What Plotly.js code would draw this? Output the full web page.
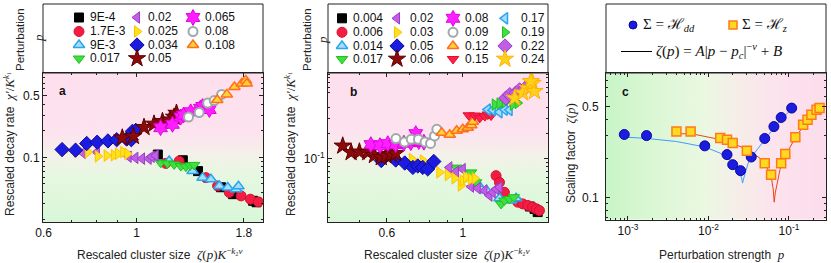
<!DOCTYPE html>
<html><head><meta charset="utf-8">
<script src="https://cdn.plot.ly/plotly-3.0.1.min.js"></script>
<style>html,body{margin:0;padding:0;background:#fff}#chart{width:831px;height:263px}</style>
</head><body><div id="chart"></div>
<script>
// ---------------- Panel a data (cluster size vs decay rate), Σ = H_dd ----------------
const labelsA = ['9E-4','1.7E-3','9E-3','0.017','0.02','0.025','0.034','0.05','0.065','0.08','0.108'];
const xA_9E4  = [1.123,1.288,1.40,1.588,1.697,1.894,1.93];
const yA_9E4  = [0.108,0.093,0.070,0.0459,0.0383,0.0322,0.031];
const xA_17E3 = [1.173,1.262,1.462,1.559,1.662,1.773,1.866,1.95];
const yA_17E3 = [0.0856,0.0908,0.059,0.0475,0.040,0.0366,0.0336,0.0313];
const xA_9E3  = [1.195,1.359,1.436,1.503,1.574,1.648,1.726,1.748];
const yA_9E3  = [0.091,0.070,0.059,0.0565,0.0475,0.0456,0.0436,0.047];
const xA_017  = [1.141,1.184,1.228,1.274,1.31,1.341,1.37];
const yA_017  = [0.087,0.0856,0.0834,0.0798,0.0786,0.0812,0.0823];
const xA_02   = [0.744,0.804,0.957,0.993,1.03,1.068,1.086,1.11];
const yA_02   = [0.113,0.115,0.102,0.099,0.097,0.097,0.102,0.105];
const xA_025  = [0.67,0.72,0.765,0.808,0.848,0.882,0.902,0.929,0.95];
const yA_025  = [0.118,0.116,0.115,0.103,0.105,0.106,0.110,0.115,0.11];
const xA_034  = [0.664,0.715,0.76,0.805,0.854,0.896,0.946,0.971,0.977,0.995];
const yA_034  = [0.123,0.121,0.144,0.149,0.154,0.159,0.162,0.159,0.198,0.203];
const xA_05   = [0.924,0.982,1.041,1.10,1.152,1.20,1.228,1.244];
const yA_05   = [0.167,0.174,0.220,0.240,0.257,0.268,0.288,0.319];
const xA_065  = [1.14,1.217,1.274,1.293,1.345,1.418,1.436,1.49];
const yA_065  = [0.218,0.238,0.288,0.303,0.33,0.362,0.379,0.35];
const xA_08   = [1.329,1.409,1.476,1.53,1.594];
const yA_08   = [0.288,0.324,0.414,0.443,0.52];
const xA_108  = [1.556,1.64,1.71,1.78,1.82,1.83];
const yA_108  = [0.449,0.52,0.63,0.69,0.75,0.69];

// ---------------- Panel b data, Σ = H_z ----------------
const labelsB = ['0.004','0.006','0.014','0.017','0.02','0.03','0.05','0.06','0.08','0.09','0.12','0.15','0.17','0.19','0.22','0.24'];
const xB_004 = [1.57,1.62,1.655];
const yB_004 = [0.027,0.0253,0.0232];
const xB_006 = [1.251,1.28,1.323,1.447,1.497,1.548,1.6,1.637,1.675];
const yB_006 = [0.0626,0.0522,0.0398,0.0304,0.029,0.0278,0.0266,0.0253,0.0242];
const xB_014 = [1.106,1.173,1.28,1.384,1.431];
const yB_014 = [0.0499,0.042,0.0338,0.0318,0.0338];
const xB_017 = [0.958,1.057,1.094,1.294,1.323,1.369,1.41];
const yB_017 = [0.078,0.0685,0.0522,0.029,0.0318,0.0332,0.0348];
const xB_02  = [0.914,0.956,1.0,1.057,1.106,1.157,1.197,1.223,1.251,1.28];
const yB_02  = [0.0784,0.0698,0.0748,0.0465,0.0444,0.0417,0.0364,0.0398,0.0435,0.0456];
const xB_03  = [0.71,0.764,0.854,0.904,0.946,0.987,1.0,1.022,1.057,1.084];
const yB_03  = [0.0986,0.0947,0.0685,0.0636,0.0582,0.048,0.0547,0.0598,0.0571,0.0582];
const xB_05  = [0.578,0.637,0.677,0.715,0.739,0.764,0.79,0.823];
const yB_05  = [0.0947,0.096,0.0885,0.0784,0.0816,0.0784,0.0753,0.0922];
const xB_06  = [0.446,0.472,0.499,0.528,0.552,0.578,0.597,0.618,0.637];
const yB_06  = [0.141,0.118,0.120,0.118,0.109,0.103,0.108,0.112,0.115];
const xB_08  = [0.539,0.573,0.604,0.637,0.673,0.705,0.729,0.744,0.77];
const yB_08  = [0.146,0.142,0.150,0.146,0.152,0.154,0.197,0.159,0.156];
const xB_09  = [0.638,0.676,0.707,0.742,0.776,0.805,0.827,0.84];
const yB_09  = [0.172,0.157,0.169,0.169,0.157,0.151,0.185,0.222];
const xB_12  = [0.868,0.916,0.96,1.0,1.034,1.059,1.07];
const yB_12  = [0.202,0.191,0.213,0.222,0.231,0.248,0.272];
const xB_15  = [1.041,1.084,1.121,1.16,1.183,1.21];
const yB_15  = [0.325,0.323,0.303,0.318,0.332,0.323];
const xB_17  = [1.183,1.223,1.28,1.326,1.37];
const yB_17  = [0.38,0.374,0.354,0.38,0.377];
const xB_19  = [1.24,1.28,1.326,1.4,1.447];
const yB_19  = [0.435,0.447,0.464,0.435,0.455];
const xB_22  = [1.336,1.372,1.43,1.465,1.52];
const yB_22  = [0.52,0.57,0.6,0.65,0.68];
const xB_24  = [1.418,1.497,1.55,1.6,1.62,1.58];
const yB_24  = [0.52,0.6,0.68,0.78,0.625,0.82];

// ---------------- Panel c data: scaling factor vs perturbation ----------------
const pHdd = [9e-4,1.7e-3,9e-3,0.017,0.02,0.025,0.034,0.05,0.065,0.08,0.108];
const zHdd = [0.306,0.30,0.25,0.214,0.179,0.161,0.205,0.285,0.352,0.414,0.489];
const pHz  = [0.004,0.006,0.014,0.017,0.02,0.03,0.05,0.06,0.08,0.09,0.12,0.15,0.17,0.19,0.22,0.24];
const zHz  = [0.323,0.323,0.287,0.279,0.263,0.229,0.184,0.150,0.184,0.216,0.292,0.364,0.397,0.434,0.474,0.489];
// fitted curves
const fitHdd_p = [9.36e-4,1.74e-3,4.03e-3,9.06e-3,0.0139,0.0185,0.0224,0.0245,0.0258,0.0265,0.0279,0.0312,0.036,0.0504,0.067,0.085,0.108];
const fitHdd_z = [0.292,0.285,0.270,0.245,0.220,0.195,0.169,0.155,0.141,0.129,0.146,0.185,0.214,0.282,0.352,0.417,0.480];
const fitHz_p  = [4.09e-3,6.18e-3,0.0143,0.0203,0.0298,0.0436,0.0528,0.061,0.0635,0.0656,0.0675,0.0703,0.0773,0.0891,0.121,0.166,0.238];
const fitHz_z  = [0.31,0.31,0.279,0.26,0.236,0.201,0.174,0.137,0.118,0.092,0.108,0.122,0.164,0.207,0.292,0.385,0.489];

// ---------------- styles ----------------
const sans = 'Liberation Sans, Arial, Helvetica, sans-serif';
const serif = 'Liberation Serif, Times New Roman, serif';
const S = {
  blk:  {symbol:'square', size:9, color:'#000000', line:{color:'#000000', width:1}},
  red:  {symbol:'circle', size:10, color:'#f31d44', line:{color:'#d8102f', width:1}},
  lbU:  {symbol:'triangle-up', size:10, color:'#a6ddff', line:{color:'#2aa6ee', width:1.5}},
  grD:  {symbol:'triangle-down', size:10, color:'#3fe03f', line:{color:'#1fbf1f', width:1}},
  puL:  {symbol:'triangle-left', size:10, color:'#c25ee6', line:{color:'#9a3cc8', width:1}},
  yeR:  {symbol:'triangle-right', size:10, color:'#ffe31a', line:{color:'#ffc000', width:1}},
  blD:  {symbol:'diamond', size:11, color:'#1c1ce0', line:{color:'#0a0a9a', width:1}},
  drS:  {symbol:'star', size:13, color:'#8c0a0a', line:{color:'#5c0000', width:1}},
  mgH:  {symbol:'hexagram', size:12, color:'#ff1eff', line:{color:'#e000e0', width:1}},
  gyO:  {symbol:'circle', size:9, color:'#ffffff', line:{color:'#9eaaaa', width:2}},
  orU:  {symbol:'triangle-up', size:10, color:'#ffd23a', line:{color:'#ff6f1f', width:1.5}},
  rdD:  {symbol:'triangle-down', size:10, color:'#ff1f48', line:{color:'#e0102f', width:1}},
  lbL:  {symbol:'triangle-left', size:10, color:'#a6ddff', line:{color:'#2aa6ee', width:1.5}},
  grR:  {symbol:'triangle-right', size:10, color:'#3fe03f', line:{color:'#1fbf1f', width:1}},
  puD:  {symbol:'diamond', size:11, color:'#c25ee6', line:{color:'#9a3cc8', width:1}},
  yeS:  {symbol:'star', size:13, color:'#ffd21a', line:{color:'#ffb000', width:1}}
};
const seriesA = [
  [xA_9E4,yA_9E4,S.blk],[xA_17E3,yA_17E3,S.red],[xA_9E3,yA_9E3,S.lbU],[xA_017,yA_017,S.grD],
  [xA_02,yA_02,S.puL],[xA_025,yA_025,S.yeR],[xA_034,yA_034,S.blD],[xA_05,yA_05,S.drS],
  [xA_065,yA_065,S.mgH],[xA_08,yA_08,S.gyO],[xA_108,yA_108,S.orU]
];
const seriesB = [
  [xB_004,yB_004,S.blk],[xB_006,yB_006,S.red],[xB_014,yB_014,S.lbU],[xB_017,yB_017,S.grD],
  [xB_02,yB_02,S.puL],[xB_03,yB_03,S.yeR],[xB_05,yB_05,S.blD],[xB_06,yB_06,S.drS],
  [xB_08,yB_08,S.mgH],[xB_09,yB_09,S.gyO],[xB_12,yB_12,S.orU],[xB_15,yB_15,S.rdD],
  [xB_17,yB_17,S.lbL],[xB_19,yB_19,S.grR],[xB_22,yB_22,S.puD],[xB_24,yB_24,S.yeS]
];

const W = 831, H = 263;
const PX = v => v / W, PY = v => 1 - v / H;
const traces = [];
const annotations = [];

seriesA.forEach((s, i) => traces.push({type:'scatter', mode:'markers', x:s[0], y:s[1], xaxis:'x', yaxis:'y',
  name:labelsA[i], marker:s[2], cliponaxis:true, hoverinfo:'skip'}));
seriesB.forEach((s, i) => traces.push({type:'scatter', mode:'markers', x:s[0], y:s[1], xaxis:'x2', yaxis:'y2',
  name:labelsB[i], marker:s[2], cliponaxis:true, hoverinfo:'skip'}));

traces.push({type:'scatter', mode:'lines', x:fitHdd_p, y:fitHdd_z, xaxis:'x3', yaxis:'y3', line:{color:'#3d9bff', width:1}, hoverinfo:'skip'});
traces.push({type:'scatter', mode:'lines', x:fitHz_p, y:fitHz_z, xaxis:'x3', yaxis:'y3', line:{color:'#e8431e', width:1}, hoverinfo:'skip'});
const mHdd = {symbol:'circle', size:10, color:'#1c1ce0', line:{color:'#0a0a9a', width:1}};
const mHz  = {symbol:'square', size:9, color:'#ffd820', line:{color:'#ff7a1a', width:1.5}};
traces.push({type:'scatter', mode:'markers', x:pHdd, y:zHdd, xaxis:'x3', yaxis:'y3', marker:mHdd, hoverinfo:'skip'});
traces.push({type:'scatter', mode:'markers', x:pHz, y:zHz, xaxis:'x3', yaxis:'y3', marker:mHz, hoverinfo:'skip'});

// ---------------- legend glyphs (overlay axis in figure pixels) ----------------
function legendBlock(labels, series, colMarkX, colTextX, rowY) {
  labels.forEach((lab, i) => {
    const c = Math.floor(i / 4), r = i % 4;
    const m = Object.assign({}, series[i][2]);
    traces.push({type:'scatter', mode:'markers', x:[colMarkX[c]], y:[rowY[r]], xaxis:'x4', yaxis:'y4',
      marker:m, cliponaxis:false, hoverinfo:'skip'});
    annotations.push({xref:'paper', yref:'paper', x:PX(colTextX[c]), y:PY(rowY[r]), xanchor:'left', yanchor:'middle',
      text:lab, showarrow:false, font:{family:sans, size:12, color:'#111'}});
  });
}
legendBlock(labelsA, seriesA, [79,137,193], [88,146,203], [17.5,31.5,45,58.5]);
legendBlock(labelsB, seriesB, [342,397,453,505], [351,408,463,519], [18.3,32.3,46,59]);
// panel c legend
traces.push({type:'scatter', mode:'markers', x:[633], y:[25], xaxis:'x4', yaxis:'y4', marker:Object.assign({}, mHdd, {size:8}), cliponaxis:false, hoverinfo:'skip'});
traces.push({type:'scatter', mode:'markers', x:[733], y:[25], xaxis:'x4', yaxis:'y4', marker:Object.assign({}, mHz, {size:8}), cliponaxis:false, hoverinfo:'skip'});
traces.push({type:'scatter', mode:'lines', x:[621,652], y:[51.5,51.5], xaxis:'x4', yaxis:'y4', line:{color:'#000', width:1}, cliponaxis:false, hoverinfo:'skip'});
const mathF = {family:serif, size:15, color:'#111'};
annotations.push({xref:'paper', yref:'paper', x:PX(641), y:PY(25), xanchor:'left', yanchor:'middle', showarrow:false, font:mathF,
  text:'Σ = ℋ<sub><i>dd</i></sub>'});
annotations.push({xref:'paper', yref:'paper', x:PX(740), y:PY(25), xanchor:'left', yanchor:'middle', showarrow:false, font:mathF,
  text:'Σ = ℋ<sub><i>z</i></sub>'});
annotations.push({xref:'paper', yref:'paper', x:PX(654), y:PY(51), xanchor:'left', yanchor:'middle', showarrow:false, font:mathF,
  text:'<i>ζ</i>(<i>p</i>) = <i>A</i>|<i>p</i> − <i>p</i><sub><i>c</i></sub>|<sup>−<i>ν</i></sup> + <i>B</i>'});

// ---------------- titles / labels ----------------
const mspan = s => '<span style="font-family:Liberation Serif, serif;font-size:13px">' + s + '</span>';
const yTitleAB = 'Rescaled decay rate  ' + mspan('<i>χ′</i>/<i>K</i><sup><i>k</i>₁</sup>');
const xTitleAB = 'Rescaled cluster size  ' + mspan('<i>ζ</i>(<i>p</i>)<i>K</i><sup>−<i>k</i>₂<i>ν</i></sup>');
function ann(x, y, text, opts) {
  annotations.push(Object.assign({xref:'paper', yref:'paper', x:PX(x), y:PY(y), xanchor:'center', yanchor:'middle',
    showarrow:false, text:text, font:{family:sans, size:12, color:'#222'}}, opts || {}));
}
ann(9, 144, yTitleAB, {textangle:-90});
ann(290, 144, yTitleAB, {textangle:-90});
ann(570, 153, 'Scaling factor  ' + mspan('<i>ζ</i>(<i>p</i>)'), {textangle:-90});
ann(160, 254, xTitleAB);
ann(447, 254, xTitleAB);
ann(722, 254, 'Perturbation strength  ' + mspan('<i>p</i>'));
ann(20, 40, 'Perturbation', {textangle:-90, font:{family:sans, size:11.5, color:'#222'}});
ann(38, 38, mspan('<i>p</i>'), {textangle:-90});
ann(307, 40, 'Perturbation', {textangle:-90, font:{family:sans, size:11.5, color:'#222'}});
ann(323, 40, mspan('<i>p</i>'), {textangle:-90});
ann(63, 91, '<b>a</b>', {font:{family:sans, size:12, color:'#111'}});
ann(353, 92, '<b>b</b>', {font:{family:sans, size:12, color:'#111'}});
ann(625, 92, '<b>c</b>', {font:{family:sans, size:12, color:'#111'}});

// ---------------- background gradients ----------------
function gradURL(vertical, stops) {
  const c = document.createElement('canvas'); c.width = 200; c.height = 200;
  const g = c.getContext('2d');
  const gr = vertical ? g.createLinearGradient(0,0,0,200) : g.createLinearGradient(0,0,200,0);
  stops.forEach(s => gr.addColorStop(s[0], s[1]));
  g.fillStyle = gr; g.fillRect(0,0,200,200);
  return c.toDataURL('image/png');
}
const vStops = [[0,'#fddfee'],[0.40,'#fde3ef'],[0.55,'#f4f1e9'],[0.70,'#e6f8e1'],[1,'#d8f7d8']];
const hStops = [[0,'#c8f5c8'],[0.18,'#d9f7d2'],[0.45,'#ebf8e2'],[0.6,'#f6eee9'],[0.75,'#fce4ee'],[1,'#fcdcec']];
const imgV = gradURL(true, vStops), imgH = gradURL(false, hStops);
const box = {a:[43,263], b:[328,548], c:[606,826]};
const topY = 73, botAB = 222, botC = 219.5;
const images = [
  {source:imgV, xref:'paper', yref:'paper', x:PX(box.a[0]), y:PY(topY), sizex:(box.a[1]-box.a[0])/W, sizey:(botAB-topY)/H, sizing:'stretch', xanchor:'left', yanchor:'top', layer:'below'},
  {source:imgV, xref:'paper', yref:'paper', x:PX(box.b[0]), y:PY(topY), sizex:(box.b[1]-box.b[0])/W, sizey:(botAB-topY)/H, sizing:'stretch', xanchor:'left', yanchor:'top', layer:'below'},
  {source:imgH, xref:'paper', yref:'paper', x:PX(box.c[0]), y:PY(topY), sizex:(box.c[1]-box.c[0])/W, sizey:(botC-topY)/H, sizing:'stretch', xanchor:'left', yanchor:'top', layer:'below'}
];
const shapes = ['a','b','c'].map(k => ({type:'rect', xref:'paper', yref:'paper', x0:PX(box[k][0]), x1:PX(box[k][1]),
  y0:PY(topY), y1:PY(4), line:{color:'#222', width:1}, fillcolor:'rgba(0,0,0,0)', layer:'above'}));

// ---------------- axes ----------------
const tf = {family:sans, size:12, color:'#111'};
function logAxis(domain, range, tickvals, ticktext, minorvals, extra) {
  return Object.assign({type:'log', domain:domain, range:range, autorange:false, showline:true, linecolor:'#222', linewidth:1,
    mirror:'ticks', ticks:'inside', ticklen:4, tickcolor:'#222', showgrid:false, zeroline:false, tickfont:tf,
    tickmode:'array', tickvals:tickvals, ticktext:ticktext, fixedrange:true,
    minor:{ticks:'inside', ticklen:2, tickcolor:'#222', tickmode:'array', tickvals:minorvals, showgrid:false}}, extra || {});
}
const yMinor = [0.02,0.03,0.04,0.05,0.06,0.07,0.08,0.09,0.2,0.3,0.4,0.6,0.7,0.8,0.9];
const cxMinor = [6e-4,7e-4,8e-4,9e-4,2e-3,3e-3,4e-3,5e-3,6e-3,7e-3,8e-3,9e-3,0.02,0.03,0.04,0.05,0.06,0.07,0.08,0.09,0.2];
const yDomAB = [PY(botAB), PY(topY)], yDomC = [PY(botC), PY(topY)];

const layout = {
  width:W, height:H, margin:{l:0,r:0,t:0,b:0,pad:0}, paper_bgcolor:'#ffffff', plot_bgcolor:'rgba(0,0,0,0)',
  showlegend:false, font:{family:sans, size:12, color:'#111'},
  xaxis:  logAxis([PX(box.a[0]),PX(box.a[1])], [Math.log10(0.598), Math.log10(2.0)], [0.6,1,1.8], ['0.6','1','1.8'], [0.7,0.8,0.9], {anchor:'y'}),
  yaxis:  logAxis(yDomAB, [Math.log10(0.0185), Math.log10(0.91)], [0.1,0.5], ['0.1','0.5'], yMinor, {anchor:'x'}),
  xaxis2: logAxis([PX(box.b[0]),PX(box.b[1])], [Math.log10(0.404), Math.log10(1.774)], [0.6,1], ['0.6','1'], [0.5,0.7,0.8,0.9], {anchor:'y2'}),
  yaxis2: logAxis(yDomAB, [Math.log10(0.0177), Math.log10(1.03)], [0.1], ['10<sup>-1</sup>'], yMinor.concat([1]), {anchor:'x2'}),
  xaxis3: logAxis([PX(box.c[0]),PX(box.c[1])], [-3.273, -0.54], [1e-3,1e-2,1e-1], ['10<sup>-3</sup>','10<sup>-2</sup>','10<sup>-1</sup>'], cxMinor, {anchor:'y3'}),
  yaxis3: logAxis(yDomC, [-1.17, -0.04], [0.1,0.5], ['0.1','0.5'], [0.07,0.08,0.09,0.2,0.3,0.4,0.6,0.7,0.8,0.9], {anchor:'x3', ticklabelstandoff:4}),
  xaxis4: {domain:[0,1], range:[0,W], visible:false, fixedrange:true, anchor:'y4'},
  yaxis4: {domain:[0,1], range:[H,0], visible:false, fixedrange:true, anchor:'x4'},
  images:images, shapes:shapes, annotations:annotations
};
Plotly.newPlot('chart', traces, layout, {staticPlot:true, displayModeBar:false});
</script></body></html>
